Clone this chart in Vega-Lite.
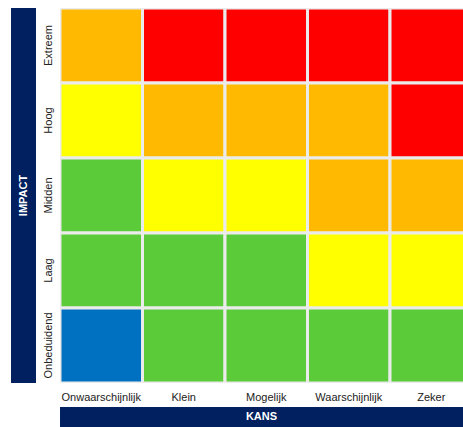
{
  "$schema": "https://vega.github.io/schema/vega-lite/v6.json",
  "padding": {"left": 11, "top": 8, "right": 0, "bottom": 0},
  "bounds": "flush",
  "spacing": 24,
  "config": {"view": {"stroke": null}, "font": "Liberation Sans"},
  "hconcat": [
    {
      "width": 25,
      "height": 375,
      "view": {"fill": "#002060", "stroke": null},
      "data": {"values": [{"t": "IMPACT"}]},
      "mark": {"type": "text", "angle": 270, "color": "white", "fontWeight": "bold", "fontSize": 11, "font": "Liberation Sans"},
      "encoding": {"text": {"field": "t", "type": "nominal"}}
    },
    {
      "vconcat": [
        {
          "width": 403,
          "height": 375,
          "data": {
            "values": [
              {"impact": "Extreem", "kans": "Onwaarschijnlijk", "niveau": "oranje"},
              {"impact": "Extreem", "kans": "Klein", "niveau": "rood"},
              {"impact": "Extreem", "kans": "Mogelijk", "niveau": "rood"},
              {"impact": "Extreem", "kans": "Waarschijnlijk", "niveau": "rood"},
              {"impact": "Extreem", "kans": "Zeker", "niveau": "rood"},
              {"impact": "Hoog", "kans": "Onwaarschijnlijk", "niveau": "geel"},
              {"impact": "Hoog", "kans": "Klein", "niveau": "oranje"},
              {"impact": "Hoog", "kans": "Mogelijk", "niveau": "oranje"},
              {"impact": "Hoog", "kans": "Waarschijnlijk", "niveau": "oranje"},
              {"impact": "Hoog", "kans": "Zeker", "niveau": "rood"},
              {"impact": "Midden", "kans": "Onwaarschijnlijk", "niveau": "groen"},
              {"impact": "Midden", "kans": "Klein", "niveau": "geel"},
              {"impact": "Midden", "kans": "Mogelijk", "niveau": "geel"},
              {"impact": "Midden", "kans": "Waarschijnlijk", "niveau": "oranje"},
              {"impact": "Midden", "kans": "Zeker", "niveau": "oranje"},
              {"impact": "Laag", "kans": "Onwaarschijnlijk", "niveau": "groen"},
              {"impact": "Laag", "kans": "Klein", "niveau": "groen"},
              {"impact": "Laag", "kans": "Mogelijk", "niveau": "groen"},
              {"impact": "Laag", "kans": "Waarschijnlijk", "niveau": "geel"},
              {"impact": "Laag", "kans": "Zeker", "niveau": "geel"},
              {"impact": "Onbeduidend", "kans": "Onwaarschijnlijk", "niveau": "blauw"},
              {"impact": "Onbeduidend", "kans": "Klein", "niveau": "groen"},
              {"impact": "Onbeduidend", "kans": "Mogelijk", "niveau": "groen"},
              {"impact": "Onbeduidend", "kans": "Waarschijnlijk", "niveau": "groen"},
              {"impact": "Onbeduidend", "kans": "Zeker", "niveau": "groen"}
            ]
          },
          "mark": {"type": "rect", "clip": true, "stroke": "#ebebeb", "strokeWidth": 3},
          "encoding": {
            "x": {
              "field": "kans", "type": "nominal",
              "sort": ["Onwaarschijnlijk", "Klein", "Mogelijk", "Waarschijnlijk", "Zeker"],
              "scale": {"range": [0, 412.5], "paddingInner": 0, "paddingOuter": 0},
              "axis": {"title": null, "orient": "bottom", "ticks": false, "domain": false, "labelPadding": 8, "labelFontSize": 11, "labelColor": "#222222", "labelAngle": 0, "labelFont": "Liberation Sans"}
            },
            "y": {
              "field": "impact", "type": "nominal",
              "sort": ["Extreem", "Hoog", "Midden", "Laag", "Onbeduidend"],
              "scale": {"paddingInner": 0, "paddingOuter": 0},
              "axis": {"title": null, "ticks": false, "domain": false, "labelAngle": -90, "labelAlign": "center", "labelBaseline": "bottom", "labelPadding": 7, "labelFontSize": 11, "labelColor": "#222222", "labelFont": "Liberation Sans"}
            },
            "color": {
              "field": "niveau", "type": "nominal",
              "scale": {"domain": ["blauw", "groen", "geel", "oranje", "rood"], "range": ["#0070C0", "#5BCB3A", "#FFFF00", "#FFB900", "#FF0000"]},
              "legend": null
            }
          }
        },
        {
          "width": 403,
          "height": 20,
          "view": {"fill": "#002060", "stroke": null},
          "data": {"values": [{"t": "KANS"}]},
          "mark": {"type": "text", "color": "white", "fontWeight": "bold", "fontSize": 11, "font": "Liberation Sans"},
          "encoding": {"text": {"field": "t", "type": "nominal"}}
        }
      ],
      "spacing": 24,
      "bounds": "flush"
    }
  ]
}
